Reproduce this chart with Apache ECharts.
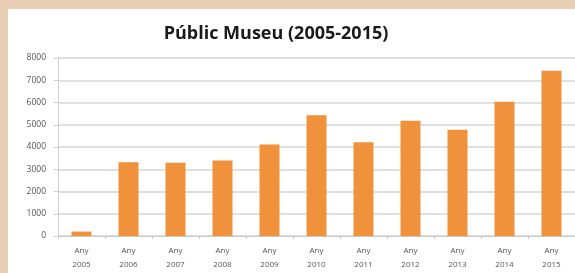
<!DOCTYPE html>
<html><head><meta charset="utf-8">
<script src="https://cdn.jsdelivr.net/npm/echarts@6/dist/echarts.min.js"></script>
<style>html,body{margin:0;padding:0;background:#e7cdb1;}#c{width:575px;height:273px;}</style>
</head><body><div id="c"></div>
<script>
const categories = ['Any\n2005','Any\n2006','Any\n2007','Any\n2008','Any\n2009','Any\n2010','Any\n2011','Any\n2012','Any\n2013','Any\n2014','Any\n2015'];
const visitors = [200, 3310, 3290, 3390, 4110, 5430, 4210, 5180, 4770, 6030, 7430];
const yTicks = [0, 1000, 2000, 3000, 4000, 5000, 6000, 7000, 8000];
const titleText = 'Públic Museu (2005-2015)';

const chart = echarts.init(document.getElementById('c'), null, {renderer:'canvas'});
chart.setOption({
  backgroundColor: '#e7cdb1',
  animation: false,
  graphic: [{type:'rect', left: 8, top: 9, shape:{width:567, height:264}, style:{fill:'#ffffff'}, z:-10}],
  title: {text: titleText, left: 271, top: 20, textAlign: 'center',
    textStyle:{fontFamily:'Open Sans', fontWeight:'bold', fontSize:18, color:'#1a1a1a'}},
  grid: {left: 58, right: 0, top: 58, bottom: 37},
  xAxis: {type:'category', data: categories,
    axisLine:{lineStyle:{color:'#c8c8c8'}},
    axisTick:{show:true, length:3, lineStyle:{color:'#c8c8c8'}},
    axisLabel:{fontFamily:'Open Sans', fontSize:8, color:'#555', lineHeight:14, margin:8}},
  yAxis: {type:'value', min: yTicks[0], max: yTicks[yTicks.length-1], interval: 1000,
    axisLine:{show:true, lineStyle:{color:'#d0d0d0'}},
    axisTick:{show:true, length:4, lineStyle:{color:'#d0d0d0'}},
    splitLine:{lineStyle:{color:'#d6d6d6', width:1.5}},
    axisLabel:{fontFamily:'Open Sans', fontSize:8.5, color:'#555', margin:12, formatter: v => String(v)}},
  series: [{type:'bar', data: visitors, barWidth: 20, itemStyle:{color:'#f0913b'}}]
});
</script></body></html>
